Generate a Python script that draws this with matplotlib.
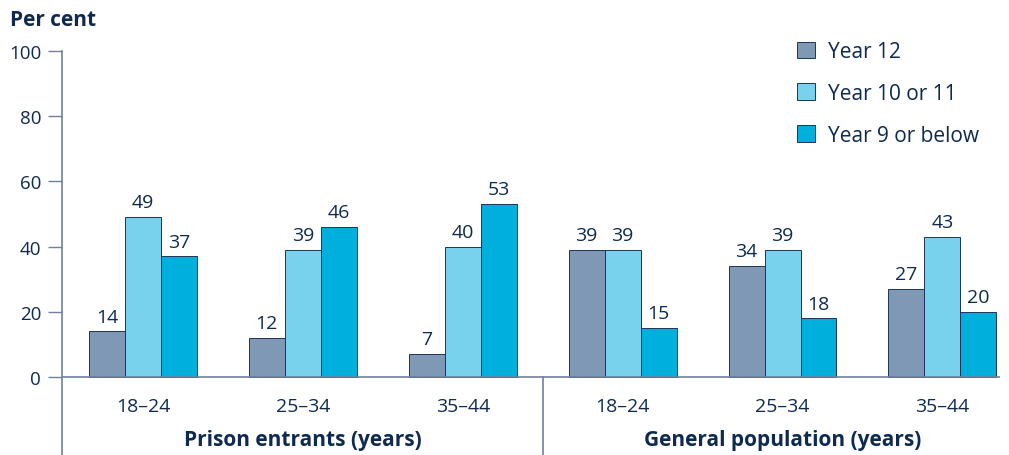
import numpy as np
import matplotlib.pyplot as plt
from matplotlib.patches import Patch

plt.rcParams['font.family'] = ['Open Sans', 'DejaVu Sans']

# data
age_groups = ['18–24', '25–34', '35–44', '18–24', '25–34', '35–44']
panels = ['Prison entrants (years)', 'General population (years)']
series = ['Year 12', 'Year 10 or 11', 'Year 9 or below']
year12 = [14, 12, 7, 39, 34, 27]
year10_11 = [49, 39, 40, 39, 39, 43]
year9_below = [37, 46, 53, 15, 18, 20]

colors = ['#7f98b6', '#78d1ed', '#00afdc']
edge = '#1c3557'
text_col = '#0e2a50'
axis_col = '#6f819b'

fig = plt.figure(figsize=(10.09, 4.56), dpi=100)
ax = fig.add_axes([62 / 1009, 0, 938 / 1009, 404 / 456])

x = np.arange(len(age_groups))
w = 0.225
for k, vals in enumerate([year12, year10_11, year9_below]):
    pos = x + (k - 1) * w
    ax.bar(pos, vals, width=w, color=colors[k], edgecolor=edge, linewidth=0.7,
           label=series[k], zorder=2)
    for px, v in zip(pos, vals):
        ax.text(px, v + 1.8, str(v), ha='center', va='bottom', fontsize=14,
                color=text_col)

ax.set_xlim(-0.506, 5.36)
ax.set_ylim(-23.9, 100)
ax.set_yticks(np.arange(0, 101, 20))
ax.set_yticklabels([str(v) for v in range(0, 101, 20)], fontsize=13.5, color=text_col)
ax.tick_params(axis='y', length=10, width=1, color=axis_col, pad=5)
ax.set_xticks([])

for s in ['top', 'right', 'bottom']:
    ax.spines[s].set_visible(False)
ax.spines['left'].set_color(axis_col)
ax.spines['left'].set_linewidth(1.2)

ax.axhline(0, color=axis_col, linewidth=1.2, zorder=3)
ax.plot([2.5, 2.5], [-23.9, 0], color=axis_col, linewidth=1.2, clip_on=False)

for i, lab in enumerate(age_groups):
    ax.text(i, -9.0, lab, ha='center', va='center', fontsize=14, color=text_col)
for j, lab in enumerate(panels):
    ax.text(1 + 3 * j, -19.2, lab, ha='center', va='center', fontsize=15,
            fontweight='bold', color=text_col)

fig.text(10 / 1009, 1 - 21 / 456, 'Per cent', ha='left', va='center', fontsize=15,
         fontweight='bold', color=text_col)

handles = [Patch(facecolor=c, edgecolor=edge, linewidth=0.7) for c in colors]
leg = ax.legend(handles, series, loc='upper left', bbox_to_anchor=(0.775, 1.045),
                frameon=False, fontsize=15, handlelength=0.87, handleheight=0.87,
                labelspacing=1.0, handletextpad=0.6, borderaxespad=0)
for t in leg.get_texts():
    t.set_color(text_col)

fig.savefig('out.png', dpi=100)
